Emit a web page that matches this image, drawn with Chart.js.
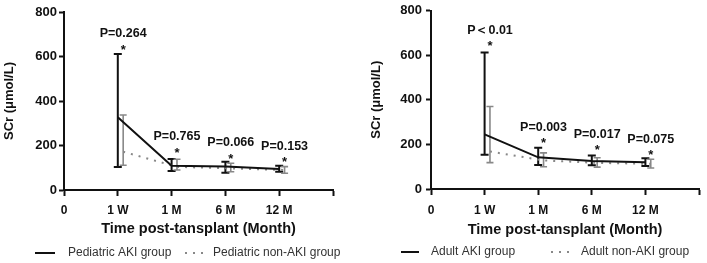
<!DOCTYPE html>
<html>
<head>
<meta charset="utf-8">
<script src="https://cdn.jsdelivr.net/npm/chart.js@4.4.1/dist/chart.umd.min.js"></script>
<style>
  html, body { margin: 0; padding: 0; background: #fff; }
  #wrap { width: 707px; height: 263px; display: flex; }
</style>
</head>
<body>
<div id="wrap">
  <canvas id="pedChart" width="354" height="263"></canvas>
  <canvas id="adultChart" width="353" height="263"></canvas>
</div>
<script>
// axis labels
var tickLabels = ['0', '1 W', '1 M', '6 M', '12 M', ''];
var timePoints = [1, 2, 3, 4];
var yTicks = [0, 200, 400, 600, 800];

// pediatric groups (mean + error bar ends)
var pedAkiMean = [327, 109, 106, 94];
var pedAkiHigh = [611, 139, 127, 109];
var pedAkiLow = [103, 85, 78, 82];
var pedNonMean = [172, 104, 97, 90];
var pedNonHigh = [337, 138, 120, 105];
var pedNonLow = [111, 90, 82, 75];
var pedPLabels = ['P=0.264', 'P=0.765', 'P=0.066', 'P=0.153'];
var pedStarY = [643, 180, 153, 138];

// adult groups
var adAkiMean = [245, 142, 126, 120];
var adAkiHigh = [612, 185, 150, 138];
var adAkiLow = [153, 108, 106, 103];
var adNonMean = [168, 128, 117, 113];
var adNonHigh = [370, 162, 140, 133];
var adNonLow = [118, 100, 98, 94];
var adPLabels = ['P\uFF1C0.01', 'P=0.003', 'P=0.017', 'P=0.075'];
var adStarY = [653, 216, 186, 164];

var FONT = "'Liberation Sans', Arial, sans-serif";
Chart.defaults.font.family = FONT;

//error bars drawn under the lines
var errorBars = {
  id: 'errorBars',
  beforeDatasetsDraw: function(chart) {
    var ctx = chart.ctx;
    var yScale = chart.scales.y;
    chart.data.datasets.forEach(function(ds, i) {
      var meta = chart.getDatasetMeta(i);
      ctx.save();
      ctx.strokeStyle = ds.borderColor;
      ctx.lineWidth = ds.errWidth;
      meta.data.forEach(function(pt, j) {
        var top = yScale.getPixelForValue(ds.high[j]);
        var bot = yScale.getPixelForValue(ds.low[j]);
        ctx.beginPath();
        ctx.moveTo(pt.x, top);
        ctx.lineTo(pt.x, bot);
        ctx.moveTo(pt.x - ds.cap, top);
        ctx.lineTo(pt.x + ds.cap, top);
        ctx.moveTo(pt.x - ds.cap, bot);
        ctx.lineTo(pt.x + ds.cap, bot);
        ctx.stroke();
      });
      ctx.restore();
    });
  }
};

//P values and stars
var pLabels = {
  id: 'pLabels',
  afterDraw: function(chart, args, opts) {
    var ctx = chart.ctx;
    var xs = chart.scales.x, ys = chart.scales.y;
    ctx.save();
    ctx.fillStyle = '#111';
    ctx.textAlign = 'center';
    ctx.textBaseline = 'middle';
    for (var j = 0; j < opts.labels.length; j++) {
      var px = xs.getPixelForValue(timePoints[j] + opts.shift);
      var py = ys.getPixelForValue(opts.starY[j]);
      ctx.font = 'bold 13px ' + FONT;
      ctx.fillText('*', px, py + 3);
      ctx.font = 'bold 12.5px ' + FONT;
      ctx.fillText(opts.labels[j], px, py - 13);
    }
    ctx.restore();
  }
};

//legend with line samples
var sampleLegend = {
  id: 'sampleLegend',
  afterDraw: function(chart, args, opts) {
    var ctx = chart.ctx;
    ctx.save();
    chart.data.datasets.forEach(function(ds, i) {
      var it = opts.items[i];
      ctx.strokeStyle = ds.borderColor;
      ctx.lineWidth = 2;
      ctx.setLineDash(ds.borderDash || []);
      ctx.beginPath();
      ctx.moveTo(it.x, opts.y);
      ctx.lineTo(it.x + it.w, opts.y);
      ctx.stroke();
      ctx.setLineDash([]);
      ctx.fillStyle = '#333';
      ctx.font = '12px ' + FONT;
      ctx.textAlign = 'left';
      ctx.textBaseline = 'middle';
      ctx.fillText(ds.label, it.textX, opts.y);
    });
    ctx.restore();
  }
};

function points(vals, shift) {
  return vals.map(function(v, j) { return { x: timePoints[j] + shift, y: v }; });
}

function makeChart(id, s) {
  var ctx = document.getElementById(id).getContext('2d');
  return new Chart(ctx, {
    type: 'line',
    data: {
      datasets: [
        {
          label: s.names[0],
          data: points(s.akiMean, 0),
          high: s.akiHigh, low: s.akiLow,
          borderColor: '#111', borderWidth: 2, errWidth: 2, cap: 4,
          pointRadius: 0, tension: 0
        },
        {
          label: s.names[1],
          data: points(s.nonMean, 0.1),
          high: s.nonHigh, low: s.nonLow,
          borderColor: '#888', borderWidth: 2, borderDash: [2, 6], errWidth: 1.6, cap: 3.5,
          pointRadius: 0, tension: 0
        }
      ]
    },
    options: {
      responsive: false,
      animation: false,
      layout: { padding: s.pad },
      plugins: {
        legend: { display: false },
        tooltip: { enabled: false },
        pLabels: { labels: s.pLabels, starY: s.starY, shift: 0.1 },
        sampleLegend: s.legend
      },
      scales: {
        x: {
          type: 'linear', min: 0, max: 5,
          afterBuildTicks: function(sc) { sc.ticks = tickLabels.map(function(t, i) { return { value: i }; }); },
          afterFit: function(sc) { sc.height = s.xHeight; },
          ticks: {
            autoSkip: false, maxRotation: 0, padding: s.xTickPad, color: '#111',
            font: { size: 12, weight: 'bold' },
            callback: function(v) { return tickLabels[v]; }
          },
          grid: { drawOnChartArea: false, tickLength: 6, tickWidth: 2, tickColor: '#111' },
          border: { color: '#111', width: 2 },
          title: {
            display: true, text: 'Time post-tansplant (Month)', color: '#111', padding: 0,
            font: { size: 14.5, weight: 'bold' }
          }
        },
        y: {
          min: 0, max: 800,
          afterBuildTicks: function(sc) { sc.ticks = yTicks.map(function(v) { return { value: v }; }); },
          afterFit: function(sc) { sc.width = s.yWidth; },
          ticks: { padding: s.yTickPad, color: '#111', font: { size: 13, weight: 'bold', lineHeight: 1 } },
          grid: { drawOnChartArea: false, tickLength: 5, tickWidth: 2, tickColor: '#111' },
          border: { color: '#111', width: 2 },
          title: {
            display: true, text: 'SCr (\u03BCmol/L)', color: '#111', padding: s.yTitlePad,
            font: { size: 13, weight: 'bold' }
          }
        }
      }
    },
    plugins: [errorBars, pLabels, sampleLegend]
  });
}

makeChart('pedChart', {
  names: ['Pediatric AKI group', 'Pediatric non-AKI group'],
  akiMean: pedAkiMean, akiHigh: pedAkiHigh, akiLow: pedAkiLow,
  nonMean: pedNonMean, nonHigh: pedNonHigh, nonLow: pedNonLow,
  pLabels: pedPLabels, starY: pedStarY,
  pad: { left: 0, right: 21, top: 12, bottom: 25 },
  xHeight: 48, yWidth: 64, yTitlePad: 2, yTickPad: 2, xTickPad: 7,
  legend: { y: 253, items: [{ x: 35, w: 20, textX: 68 }, { x: 185, w: 18, textX: 213 }] }
});

makeChart('adultChart', {
  names: ['Adult AKI group', 'Adult non-AKI group'],
  akiMean: adAkiMean, akiHigh: adAkiHigh, akiLow: adAkiLow,
  nonMean: adNonMean, nonHigh: adNonHigh, nonLow: adNonLow,
  pLabels: adPLabels, starY: adStarY,
  pad: { left: 0, right: 3, top: 7, bottom: 24 },
  xHeight: 50, yWidth: 77, yTitlePad: 14.5, yTickPad: 4, xTickPad: 8,
  legend: { y: 252, items: [{ x: 47, w: 18, textX: 77 }, { x: 197, w: 18, textX: 227 }] }
});
</script>
</body>
</html>
